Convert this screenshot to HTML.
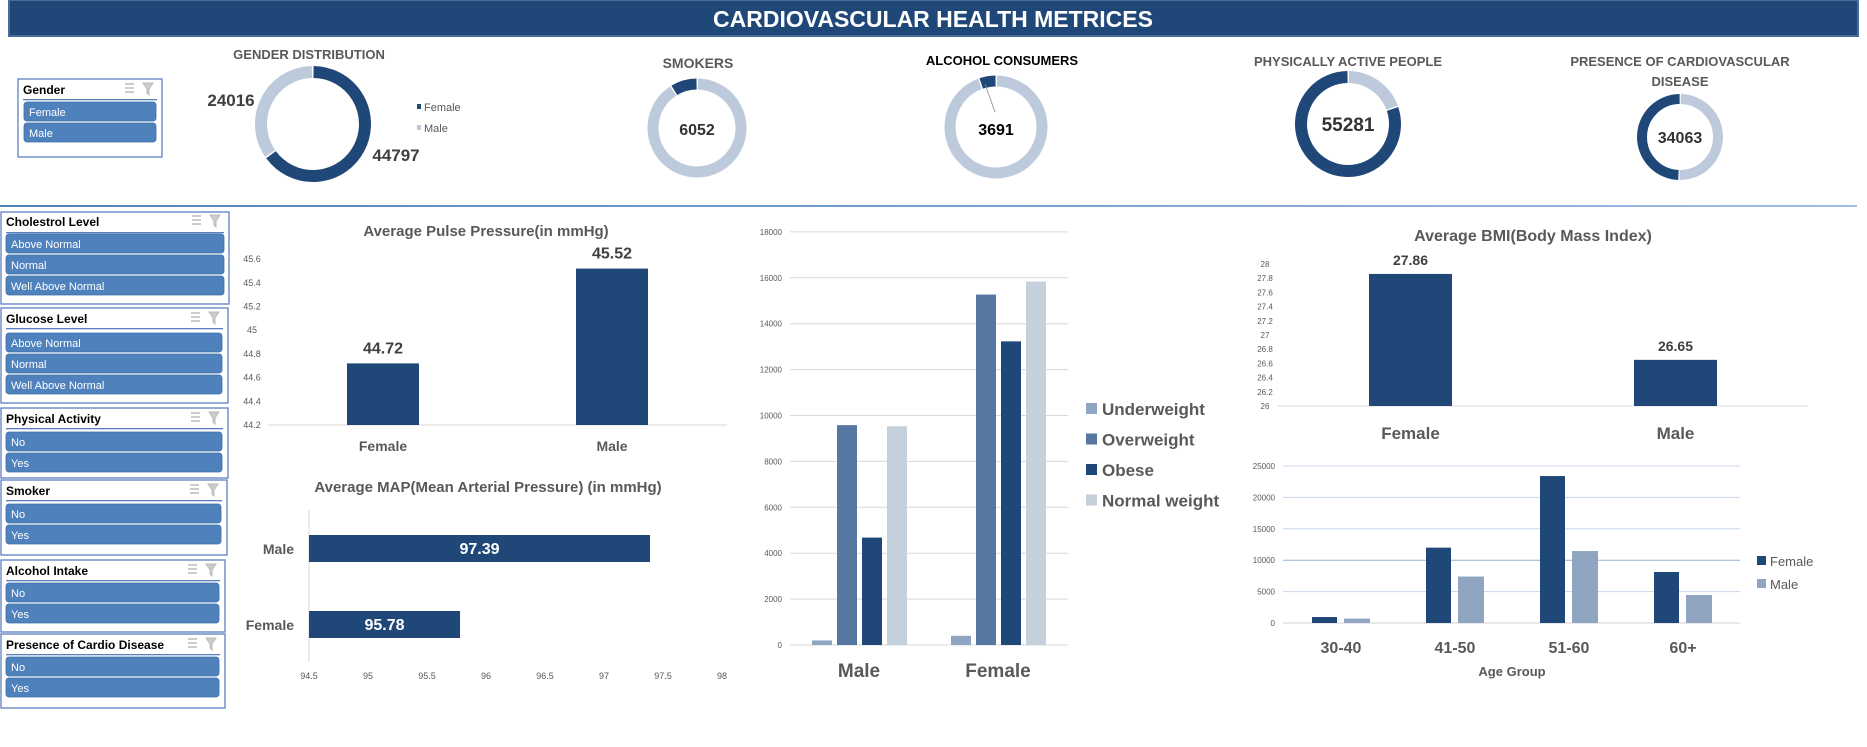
<!DOCTYPE html>
<html><head><meta charset="utf-8"><style>
html,body{margin:0;padding:0;background:#fff;width:1867px;height:747px;overflow:hidden}
svg{display:block;font-family:"Liberation Sans",sans-serif}
</style></head><body>
<svg id="s" width="1867" height="747" viewBox="0 0 1867 747" xmlns="http://www.w3.org/2000/svg">
<rect x="9" y="0" width="1849" height="36" fill="#1f4778" stroke="#4a6c9a" stroke-width="2"/>
<text x="933" y="27" text-anchor="middle" fill="#fff" font-size="23" font-weight="bold">CARDIOVASCULAR HEALTH METRICES</text>
<defs><linearGradient id="lg" x1="0" x2="1"><stop offset="0" stop-color="#4f81bd"/><stop offset="1" stop-color="#9fbde0"/></linearGradient></defs>
<rect x="0" y="205" width="1857" height="2" fill="url(#lg)"/>
<g id="slicers"></g><g id="donuts"></g><g id="pulse"></g><g id="map"></g><g id="bmiw"></g><g id="bmi"></g><g id="age"></g>
</svg>
<script>
// ---- data ----
const donutTitles=["GENDER DISTRIBUTION","SMOKERS","ALCOHOL CONSUMERS","PHYSICALLY ACTIVE PEOPLE","PRESENCE OF CARDIOVASCULAR"];
const donutValues=[44797,6052,3691,55281,34063];
const donutTotal=68813;
const genderCounts=[44797,24016];
const pulseCats=["Female","Male"];
const pulseValues=[44.72,45.52];
const pulseTicks=[44.2,44.4,44.6,44.8,45,45.2,45.4,45.6];
const mapCats=["Male","Female"];
const mapValues=[97.39,95.78];
const mapTicks=[94.5,95,95.5,96,96.5,97,97.5,98];
const bmiwCats=["Male","Female"];
const bmiwSeries=["Underweight","Overweight","Obese","Normal weight"];
const bmiwUnder=[200,400];
const bmiwOver=[9580,15270];
const bmiwObese=[4680,13230];
const bmiwNormal=[9530,15840];
const bmiwTicks=[0,2000,4000,6000,8000,10000,12000,14000,16000,18000];
const bmiCats=["Female","Male"];
const bmiValues=[27.86,26.65];
const bmiTicks=[26,26.2,26.4,26.6,26.8,27,27.2,27.4,27.6,27.8,28];
const ageCats=["30-40","41-50","51-60","60+"];
const ageFemale=[950,12000,23400,8120];
const ageMale=[700,7400,11460,4460];
const ageTicks=[0,5000,10000,15000,20000,25000];

const NS="http://www.w3.org/2000/svg";
function mk(p,tag,a,txt){const e=document.createElementNS(NS,tag);for(const k in a)e.setAttribute(k,a[k]);if(txt!==undefined)e.textContent=txt;p.appendChild(e);return e;}
const DARK="#1f4778",LIGHTD="#bccadb",GRAY="#595959";

// ---- slicers ----
const sl=document.getElementById('slicers');
const slicerDefs=[
 {t:"Gender",x0:18,x1:162,y0:79,y1:157,hb:94,ul:99,items:["Female","Male"],iy:[102,123],ix0:24,ix1:156},
 {t:"Cholestrol Level",x0:1,x1:229,y0:212,y1:304,hb:226,ul:232,items:["Above Normal","Normal","Well Above Normal"],iy:[234,255,276],ix0:6,ix1:224},
 {t:"Glucose Level",x0:1,x1:228,y0:308,y1:403,hb:323,ul:328,items:["Above Normal","Normal","Well Above Normal"],iy:[333,354,375],ix0:6,ix1:222},
 {t:"Physical Activity",x0:1,x1:228,y0:408,y1:478,hb:423,ul:428,items:["No","Yes"],iy:[432,453],ix0:6,ix1:222},
 {t:"Smoker",x0:1,x1:227,y0:480,y1:555,hb:495,ul:500,items:["No","Yes"],iy:[504,525],ix0:6,ix1:221},
 {t:"Alcohol Intake",x0:1,x1:225,y0:560,y1:632,hb:575,ul:580,items:["No","Yes"],iy:[583,604],ix0:6,ix1:219},
 {t:"Presence of Cardio Disease",x0:1,x1:225,y0:634,y1:708,hb:649,ul:654,items:["No","Yes"],iy:[657,678],ix0:6,ix1:219}
];
slicerDefs.forEach(d=>{
 const slug=d.t.toLowerCase().replace(/[^a-z]+/g,'-');
 const g=mk(sl,'g',{});
 
 
 mk(g,'rect',{x:d.x0,y:d.y0,width:d.x1-d.x0,height:d.y1-d.y0,fill:'#fff',stroke:'#5b7fc0','stroke-width':1.3});
 const h=mk(g,'text',{x:d.x0+5,y:d.hb,'font-size':12,'font-weight':'bold',fill:'#000'},d.t);
 
 
 mk(g,'rect',{x:d.x0+5,y:d.ul,width:d.x1-d.x0-10,height:1.3,fill:'#5b7fc0'});
 const ix=d.x1-37;
 const ic=mk(g,'g',{stroke:'#999','stroke-width':1});
 
 
 for(let k=0;k<3;k++){mk(ic,'line',{x1:ix,y1:d.hb-10+k*4,x2:ix+9,y2:d.hb-10+k*4});}
 const cf=mk(g,'path',{d:`M${ix+18} ${d.hb-11}h10l-4 6v6l-2-2v-4z`,fill:'#ccc',stroke:'#bbb'});
 
 
 d.items.forEach((it,i)=>{
  const b=mk(g,'g',{});
  
  
  mk(b,'rect',{x:d.ix0,y:d.iy[i],width:d.ix1-d.ix0,height:19,rx:3,fill:'#4f81bd',stroke:'#3f6ea8','stroke-width':0.8});
  mk(b,'text',{x:d.ix0+5,y:d.iy[i]+14,'font-size':11,fill:'#fff'},it);
 });
});

// ---- donuts ----
const dn=document.getElementById('donuts');
function arcPath(cx,cy,r,a0,a1){const p=a=>[cx+r*Math.sin(a),cy-r*Math.cos(a)];const [x0,y0]=p(a0),[x1,y1]=p(a1);const lg=Math.abs(a1-a0)>Math.PI?1:0;return `M${x0} ${y0}A${r} ${r} 0 ${lg} 1 ${x1} ${y1}`;}
const donutGeo=[{cx:313,cy:124,r:52,w:12,cw:true},{cx:697,cy:128,r:44,w:11,cw:false},{cx:996,cy:127,r:46,w:11,cw:false},{cx:1348,cy:124,r:47,w:12,cw:false},{cx:1680,cy:137,r:38,w:10,cw:false}];
donutValues.forEach((v,i)=>{
 const G=donutGeo[i];const f=v/donutTotal;const T=2*Math.PI;
 const g=mk(dn,'g',{});
 
 
 let d0,d1,l0,l1;
 if(G.cw){d0=0;d1=f*T;l0=f*T;l1=T;}else{d0=T-f*T;d1=T;l0=0;l1=T-f*T;}
 const ls=mk(g,'path',{d:arcPath(G.cx,G.cy,G.r,l0+0.02,l1-0.02),fill:'none',stroke:LIGHTD,'stroke-width':G.w});
 
 
 const ds=mk(g,'path',{d:arcPath(G.cx,G.cy,G.r,d0+0.01,d1-0.01),fill:'none',stroke:DARK,'stroke-width':G.w});
 
 
});
function T(p,x,y,s,t,o){const a=Object.assign({x:x,y:y,'font-size':s,'text-anchor':'middle','font-weight':'bold',fill:GRAY},o||{});return mk(p,'text',a,t);}
let e;
e=T(dn,309,59,13,donutTitles[0]);
e=T(dn,231,106,17,String(genderCounts[1]),{fill:'#404040'});
e=T(dn,396,161,17,String(genderCounts[0]),{fill:'#404040'});
e=mk(dn,'rect',{x:417,y:104,width:4,height:5,fill:DARK});
e=mk(dn,'text',{x:424,y:111,'font-size':11,fill:GRAY},'Female');
e=mk(dn,'rect',{x:417,y:125,width:4,height:5,fill:LIGHTD});
e=mk(dn,'text',{x:424,y:132,'font-size':11,fill:GRAY},'Male');
e=T(dn,698,68,14,donutTitles[1]);
e=T(dn,697,135,16,String(donutValues[1]),{fill:'#333'});
e=T(dn,1002,65,13,donutTitles[2],{fill:'#000'});
e=mk(dn,'line',{x1:985,y1:84,x2:995,y2:112,stroke:'#888','stroke-width':0.8});
e=T(dn,996,135,16,String(donutValues[2]),{fill:'#000'});
e=T(dn,1348,66,13,donutTitles[3]);
e=T(dn,1348,131,19,String(donutValues[3]),{fill:'#333'});
e=T(dn,1680,66,13,donutTitles[4]);
e=T(dn,1680,86,13,"DISEASE");
e=T(dn,1680,143,16,String(donutValues[4]),{fill:'#333'});

// ---- pulse chart ----
const pg=document.getElementById('pulse');
const py=v=>425-(v-44.2)/0.2*23.7;
const pX=[347,576],pW=72;
e=T(pg,486,236,15,"Average Pulse Pressure(in  mmHg)");
pulseTicks.forEach(t=>{const k=mk(pg,'text',{x:252,y:py(t)+3,'font-size':9,'text-anchor':'middle',fill:GRAY},String(t));});
e=mk(pg,'line',{x1:268,y1:425,x2:727,y2:425,stroke:'#d9d9d9','stroke-width':1});
pulseValues.forEach((v,i)=>{
 const b=mk(pg,'rect',{x:pX[i],y:py(v),width:pW,height:425-py(v),fill:DARK});
 
 
 const l=T(pg,pX[i]+pW/2,py(v)-10,16,v.toFixed(2),{fill:'#404040'});
 
 
 const c=T(pg,pX[i]+pW/2,451,14,pulseCats[i]);
 
 
});

// ---- MAP chart ----
const mg=document.getElementById('map');
const mx=v=>309+(v-94.5)*118;
const mY=[535,611],mH=27;
e=T(mg,488,492,15,"Average MAP(Mean Arterial Pressure) (in mmHg)");
e=mk(mg,'line',{x1:309,y1:510,x2:309,y2:662,stroke:'#d9d9d9'});
mapTicks.forEach(t=>{const k=mk(mg,'text',{x:mx(t),y:679,'font-size':9,'text-anchor':'middle',fill:GRAY},String(t));});
mapValues.forEach((v,i)=>{
 const b=mk(mg,'rect',{x:309,y:mY[i],width:mx(v)-309,height:mH,fill:DARK});
 
 
 const l=T(mg,(309+mx(v))/2,mY[i]+19,16,v.toFixed(2),{fill:'#fff'});
 
 
 const c=T(mg,294,mY[i]+19,14,mapCats[i],{'text-anchor':'end'});
 
 
});

// ---- BMI category by gender ----
const wg=document.getElementById('bmiw');
const wy=v=>645-v/2000*45.9;
const wStart=[812,951],wStep=25,wW=20;
const wColors=["#8fa5c2","#5677a0","#1f4778","#c5d0dd"];
const wSeries=[bmiwUnder,bmiwOver,bmiwObese,bmiwNormal];
bmiwTicks.forEach(t=>{
 const gl=mk(wg,'line',{x1:790,y1:wy(t),x2:1068,y2:wy(t),stroke:'#d9d9d9'});
 
 
 const k=mk(wg,'text',{x:782,y:wy(t)+3,'font-size':8,'text-anchor':'end',fill:GRAY},String(t));
 
 
});
bmiwCats.forEach((c,ci)=>{
 wSeries.forEach((s,si)=>{
  const v=s[ci];
  const b=mk(wg,'rect',{x:wStart[ci]+si*wStep,y:wy(v),width:wW,height:645-wy(v),fill:wColors[si]});
  
  
 });
 const l=T(wg,wStart[ci]+47,677,19,c);
 
 
});
bmiwSeries.forEach((s,i)=>{
 const yy=409+i*30.5;
 const sq=mk(wg,'rect',{x:1086,y:yy-6,width:11,height:11,fill:wColors[i]});
 
 
 const t=mk(wg,'text',{x:1102,y:yy+6,'font-size':17,'font-weight':'bold',fill:GRAY},s);
 
 
});

// ---- BMI chart ----
const bg=document.getElementById('bmi');
const by=v=>406-(v-26)*71;
const bX=[1369,1634],bW=83;
e=T(bg,1533,241,16,"Average BMI(Body Mass Index)");
bmiTicks.forEach(t=>{const k=mk(bg,'text',{x:1265,y:by(t)+3,'font-size':8,'text-anchor':'middle',fill:GRAY},String(t));});
e=mk(bg,'line',{x1:1278,y1:406,x2:1808,y2:406,stroke:'#d9d9d9'});
bmiValues.forEach((v,i)=>{
 const b=mk(bg,'rect',{x:bX[i],y:by(v),width:bW,height:406-by(v),fill:DARK});
 
 
 const l=T(bg,bX[i]+bW/2,by(v)-9,14,v.toFixed(2),{fill:'#404040'});
 
 
 const c=T(bg,bX[i]+bW/2,439,17,bmiCats[i]);
 
 
});

// ---- Age group chart ----
const ag=document.getElementById('age');
const ay=v=>623-v/5000*31.4;
const aC0=1341,aStep=114,aW=25;
ageTicks.forEach(t=>{
 const gl=mk(ag,'line',{x1:1283,y1:ay(t),x2:1740,y2:ay(t),stroke:t===10000?'#95b0d4':(t===0?'#d0d0d0':'#c9d7ea')});
 
 
 const k=mk(ag,'text',{x:1275,y:ay(t)+3,'font-size':8,'text-anchor':'end',fill:GRAY},String(t));
 
 
});
ageCats.forEach((c,i)=>{
 const cx=aC0+i*aStep;
 const f=mk(ag,'rect',{x:cx-29,y:ay(ageFemale[i]),width:aW,height:623-ay(ageFemale[i]),fill:DARK});
 
 
 const m=mk(ag,'rect',{x:cx+3,y:ay(ageMale[i]),width:aW+1,height:623-ay(ageMale[i]),fill:'#8fa5c2'});
 
 
 const l=T(ag,cx,653,16,c);
 
 
});
e=T(ag,1512,676,13,"Age Group");
[["Female",DARK,561],["Male","#8fa5c2",584]].forEach(L=>{
 const sq=mk(ag,'rect',{x:1757,y:L[2]-5,width:9,height:9,fill:L[1]});
 
 
 const t=mk(ag,'text',{x:1770,y:L[2]+5,'font-size':13,fill:GRAY},L[0]);
 
 
});
</script>
</body></html>
